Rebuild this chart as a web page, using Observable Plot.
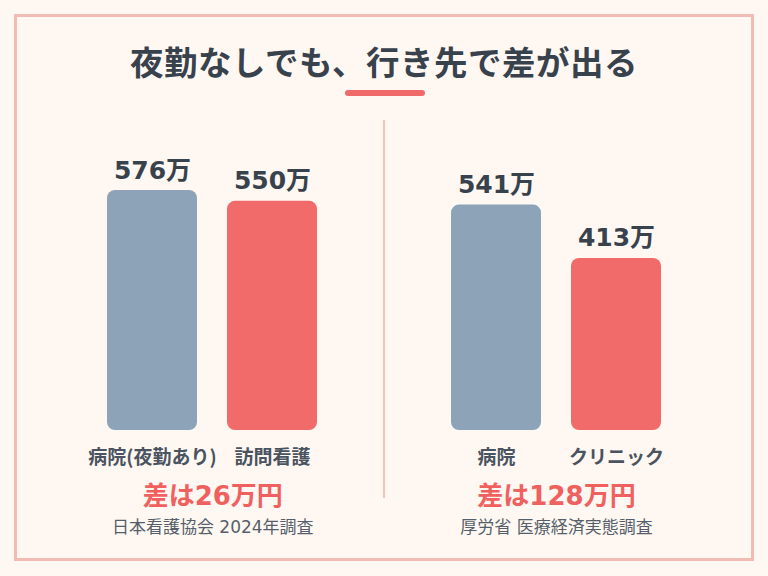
<!DOCTYPE html>
<html>
<head>
<meta charset="utf-8">
<script src="https://cdn.jsdelivr.net/npm/d3@7"></script>
<script src="https://cdn.jsdelivr.net/npm/@observablehq/plot@0.6"></script>
<style>
  html, body { margin: 0; padding: 0; background: #FFF8F2; }
  #page { position: relative; width: 768px; height: 576px; background: #FFF8F2; overflow: hidden;
          font-family: "Noto Sans CJK JP", "Noto Sans", sans-serif; }
  #frame { position: absolute; left: 14px; top: 14px; width: 740px; height: 547px; box-sizing: border-box;
           border: 3px solid #F3BBB5; }
  #title { position: absolute; left: 0; width: 768px; top: 37px; text-align: center; font-size: 33.5px;
           font-weight: 700; color: #38424D; line-height: 48px; letter-spacing: 0.5px; }
  #underline { position: absolute; left: 345px; top: 90px; width: 80px; height: 6px; border-radius: 3px; background: #F06A6A; }
  #divider { position: absolute; left: 383px; top: 120px; width: 2px; height: 378px; background: #F2C2BD; }
  .panel { position: absolute; top: 0; width: 384px; height: 576px; }
</style>
</head>
<body>
<div id="page">
  <div id="frame"></div>
  <div id="title">夜勤なしでも、行き先で差が出る</div>
  <div id="underline"></div>
  <div id="divider"></div>
  <div id="left" class="panel" style="left:0"></div>
  <div id="right" class="panel" style="left:384px"></div>
</div>
<script>
const leftCategories = ["病院(夜勤あり)", "訪問看護"];
const leftValues = [576, 550];
const leftNote = "差は26万円";
const leftSource = "日本看護協会 2024年調査";

const rightCategories = ["病院", "クリニック"];
const rightValues = [541, 413];
const rightNote = "差は128万円";
const rightSource = "厚労省 医療経済実態調査";

const barColors = ["#8DA3B8", "#F26B6B"];
const yMax = 576;

const numFont = "'DejaVu Sans', 'Noto Sans CJK JP', sans-serif";
const jpFont = "'Noto Sans CJK JP', sans-serif";

function panel(categories, values, note, source, marginLeft, marginRight, pad) {
  const data = categories.map((c, i) => ({cat: c, value: values[i], color: barColors[i], label: values[i] + "万"}));
  return Plot.plot({
    width: 384,
    height: 576,
    marginTop: 190,
    marginBottom: 146,
    marginLeft,
    marginRight,
    style: {background: "transparent", fontFamily: jpFont},
    x: {domain: categories, paddingInner: pad, paddingOuter: pad / 2, axis: null},
    y: {domain: [0, yMax], axis: null},
    marks: [
      Plot.barY(data, {x: "cat", y: "value", fill: "color", rx: 8}),
      Plot.text(data, {x: "cat", y: "value", text: "label", lineAnchor: "bottom", dy: -12,
                       fontSize: 25, fontWeight: 700, fill: "#38424D", fontFamily: numFont}),
      Plot.text(data, {x: "cat", text: "cat", frameAnchor: "bottom", lineAnchor: "middle", dy: 27,
                       fontSize: 19, fontWeight: 700, fill: "#4A5360"}),
      Plot.text([note], {text: d => d, frameAnchor: "bottom", lineAnchor: "middle", dy: 66,
                         fontSize: 26, fontWeight: 700, fill: "#F0605F", fontFamily: numFont}),
      Plot.text([source], {text: d => d, frameAnchor: "bottom", lineAnchor: "middle", dy: 97,
                           fontSize: 17, fontWeight: 400, fill: "#555F6B", fontFamily: numFont})
    ]
  });
}

document.getElementById("left").appendChild(panel(leftCategories, leftValues, leftNote, leftSource, 91.75, 51.25, 0.253));
document.getElementById("right").appendChild(panel(rightCategories, rightValues, rightNote, rightSource, 52, 92, 0.25));
</script>
</body>
</html>
